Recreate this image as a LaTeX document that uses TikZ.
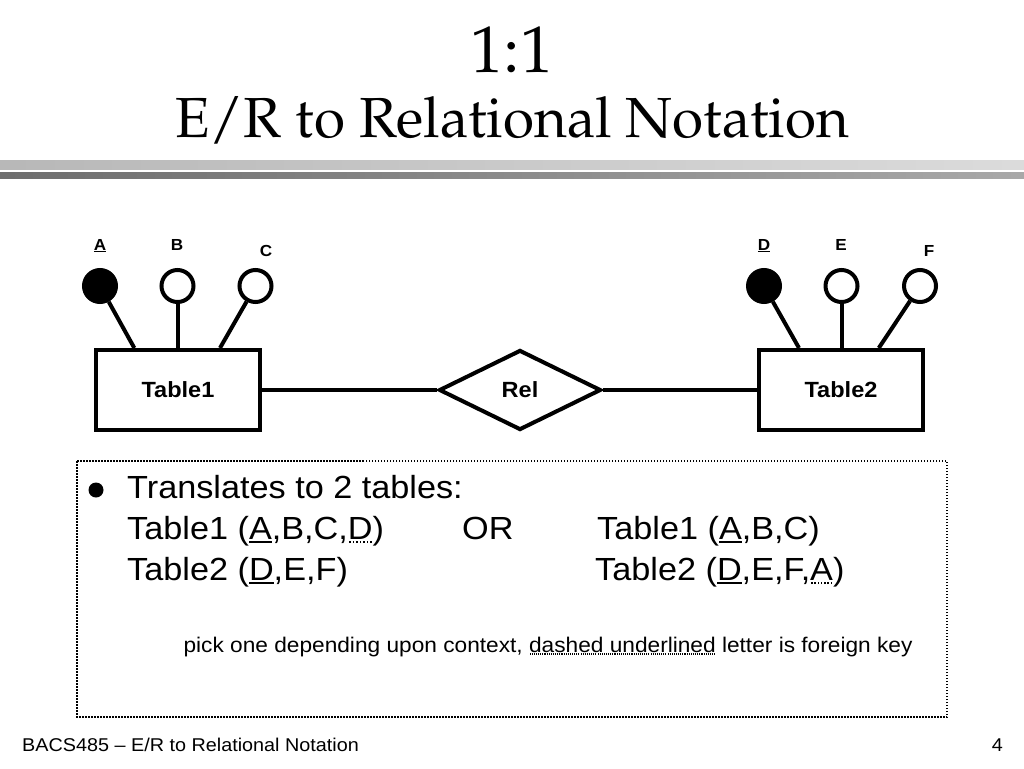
\documentclass[tikz,border=0pt]{standalone}
\usepackage[T1]{fontenc}
\usepackage{fontspec}
\setmainfont{Liberation Sans}[FakeStretch=1.07]
\usetikzlibrary{shapes.geometric,calc}

\newcommand\titlefont{\fontencoding{T1}\fontfamily{ppl}\selectfont}
\newcommand\keyul[1]{{\setbox0\hbox{#1}\rlap{\rule[-0.13em]{\wd0}{0.06em}}\box0}}
\newcommand\fkul[1]{{\setbox0\hbox{#1}\rlap{\raisebox{-0.13em}{\hbox to\wd0{\xleaders\hbox to 0.1em{\hss\rule{0.05em}{0.06em}\hss}\hfill}}}\box0}}

\tikzset{
  entity/.style={draw, line width=4pt, minimum width=164pt, minimum height=80pt, font=\bfseries\fontsize{22}{22}\selectfont},
  relship/.style={draw, diamond, line width=4pt, inner sep=0pt, minimum width=162pt, minimum height=80pt, font=\bfseries\fontsize{22}{22}\selectfont},
  attr/.style={draw, circle, line width=4pt, inner sep=0pt, minimum size=32pt},
  keyattr/.style={attr, fill=black},
  attrname/.style={anchor=base, inner sep=0pt, font=\bfseries\fontsize{16}{16}\selectfont},
  attrline/.style={line width=4pt},
  bodytext/.style={anchor=base west, inner sep=0pt, font=\fontsize{32}{41}\selectfont}
}

\begin{document}
\begin{tikzpicture}[x=1pt,y=-1pt]
\useasboundingbox (0,0) rectangle (1024,768);%

% Marking the title
\node [anchor=base, font=\titlefont\fontsize{66}{66}\selectfont] (title) at (512,72) {1:1};%
\node [anchor=base, font=\titlefont\fontsize{56.5}{56.5}\selectfont] (subtitle) at (512,137) {E/R to Relational Notation};%

% Drawing the title rules
\shade [left color=black!28, right color=black!14] (0,160) rectangle (1024,169);%
\shade [left color=black!57, right color=black!34] (0,172) rectangle (1024,178);%

% Marking tables and relationship
\node [entity] (tone) at (178,390) {Table1};%
\node [relship] (rel) at (520,390) {Rel};%
\node [entity] (ttwo) at (841,390) {Table2};%

% Marking attributes of Table1
\node [keyattr] (a) at (100,286) {};%
\node [attr] (b) at (177.5,286) {};%
\node [attr] (c) at (255.5,286) {};%
\node [attrname] (la) at (100,250) {\keyul{A}};%
\node [attrname] (lb) at (177,250) {B};%
\node [attrname] (lc) at (266,256) {C};%

% Marking attributes of Table2
\node [keyattr] (d) at (764,286) {};%
\node [attr] (e) at (841.5,286) {};%
\node [attr] (f) at (920,286) {};%
\node [attrname] (ld) at (764,250) {\keyul{D}};%
\node [attrname] (le) at (841,250) {E};%
\node [attrname] (lf) at (929,256) {F};%

% Drawing attribute lines
\draw [attrline] (a) -- ($(tone.north)!0.52!(tone.north west)$);%
\draw [attrline] (b) -- (b |- tone.north);%
\draw [attrline] (c) -- ($(tone.north)!0.5!(tone.north east)$);%
\draw [attrline] (d) -- ($(ttwo.north)!0.5!(ttwo.north west)$);%
\draw [attrline] (e) -- (e |- ttwo.north);%
\draw [attrline] (f) -- ($(ttwo.north)!0.45!(ttwo.north east)$);%

% Drawing relationship lines
\draw [attrline] (tone) -- (rel);%
\draw [attrline] (rel) -- (ttwo);%

% Drawing the dotted frame
\draw [line width=1.5pt, dash pattern=on 1.5pt off 1.5pt] (77,461) rectangle (947,717);%

% Marking the text
\node [circle, fill, inner sep=0pt, minimum size=15pt] (dot) at (96,490) {};%
\node [bodytext] (line1) at (127,498) {Translates to 2 tables:};%
\node [bodytext] (line2) at (127,539) {Table1 (\keyul{A},B,C,\fkul{D})};%
\node [bodytext] (or) at (462,539) {OR};%
\node [bodytext] (right2) at (597,539) {Table1 (\keyul{A},B,C)};%
\node [bodytext] (line3) at (127,580) {Table2 (\keyul{D},E,F)};%
\node [bodytext] (right3) at (595,580) {Table2 (\keyul{D},E,F,\fkul{A})};%
\node [anchor=base, inner sep=0pt, font=\fontsize{21.2}{21.2}\selectfont] (note) at (548,652) {pick one depending upon context, \fkul{dashed underlined} letter is foreign key};%

% Marking the footer
\node [anchor=base west, inner sep=0pt, font=\fontsize{18.5}{18.5}\selectfont] (foot) at (22,751) {BACS485 – E/R to Relational Notation};%
\node [anchor=base east, inner sep=0pt, font=\fontsize{18.5}{18.5}\selectfont] (page) at (1003,751) {4};%
\end{tikzpicture}
\end{document}
